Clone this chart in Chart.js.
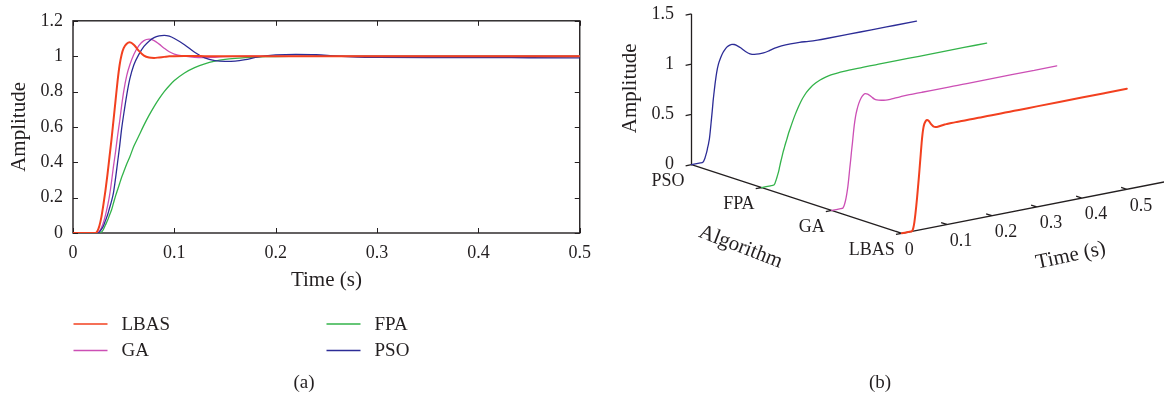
<!DOCTYPE html>
<html>
<head>
<meta charset="utf-8">
<script src="https://cdn.jsdelivr.net/npm/chart.js@4.4.1/dist/chart.umd.min.js"></script>
<style>
  html, body { margin: 0; padding: 0; background: #fff; }
  #wrap { position: relative; width: 1164px; height: 402px; overflow: hidden; }
  #stepChart { position: absolute; left: 0; top: 0; }
  #waterfallChart { position: absolute; left: 600px; top: 0; }
</style>
</head>
<body>
<div id="wrap">
  <canvas id="stepChart" width="600" height="402"></canvas>
  <canvas id="waterfallChart" width="564" height="402"></canvas>
</div>
<script>
// ---- step response data (time in seconds, amplitude) ----
const timeS = [0, 0.020, 0.022, 0.024, 0.026, 0.028, 0.030, 0.032, 0.034, 0.036,
  0.038, 0.040, 0.042, 0.044, 0.046, 0.048, 0.050, 0.053, 0.056, 0.060,
  0.065, 0.070, 0.075, 0.080, 0.085, 0.090, 0.095, 0.100, 0.110, 0.120,
  0.130, 0.140, 0.150, 0.160, 0.170, 0.180, 0.190, 0.200, 0.220, 0.240,
  0.260, 0.280, 0.300, 0.350, 0.400, 0.450, 0.500];

const lbas = [0, 0, 0, 0.01, 0.04, 0.09, 0.16, 0.24, 0.33, 0.43,
  0.53, 0.64, 0.75, 0.86, 0.95, 1.01, 1.045, 1.07, 1.078, 1.065,
  1.03, 1.003, 0.992, 0.99, 0.993, 0.996, 0.999, 1.0, 1.001, 1.001,
  1.0, 1.0, 1.0, 1.0, 1.0, 1.0, 1.0, 1.0, 1.0, 1.0,
  1.0, 1.0, 1.0, 1.0, 1.0, 1.0, 1.0];

const ga = [0, 0, 0, 0, 0.01, 0.03, 0.06, 0.10, 0.15, 0.21,
  0.29, 0.38, 0.46, 0.55, 0.63, 0.72, 0.80, 0.89, 0.95, 1.01,
  1.06, 1.088, 1.096, 1.088, 1.068, 1.045, 1.025, 1.012, 1.0, 0.993,
  0.992, 0.994, 0.997, 0.999, 1.0, 1.0, 1.0, 1.0, 1.0, 1.0,
  1.0, 1.0, 1.0, 1.0, 1.0, 1.0, 1.0];

const fpa = [0, 0, 0, 0, 0, 0.005, 0.02, 0.045, 0.07, 0.10,
  0.13, 0.17, 0.21, 0.245, 0.28, 0.315, 0.345, 0.39, 0.43, 0.49,
  0.55, 0.61, 0.665, 0.715, 0.76, 0.80, 0.833, 0.862, 0.905, 0.935,
  0.957, 0.972, 0.982, 0.988, 0.992, 0.995, 0.997, 0.998, 0.999, 1.0,
  1.0, 1.0, 1.0, 1.0, 1.0, 1.0, 1.0];

const pso = [0, 0, 0, 0, 0.005, 0.02, 0.04, 0.07, 0.10, 0.14,
  0.18, 0.23, 0.31, 0.40, 0.49, 0.59, 0.67, 0.78, 0.87, 0.95,
  1.01, 1.055, 1.085, 1.105, 1.115, 1.118, 1.113, 1.10, 1.065, 1.022,
  0.99, 0.975, 0.971, 0.972, 0.98, 0.993, 1.002, 1.007, 1.01, 1.008,
  1.0, 0.995, 0.993, 0.992, 0.992, 0.991, 0.99];

// ---- axis ticks ----
const timeTicks = [0, 0.1, 0.2, 0.3, 0.4, 0.5];
const timeTickLabels = ['0', '0.1', '0.2', '0.3', '0.4', '0.5'];
const ampTicks = [0, 0.2, 0.4, 0.6, 0.8, 1.0, 1.2];
const ampTickLabels = ['0', '0.2', '0.4', '0.6', '0.8', '1', '1.2'];

// waterfall view: algorithms along the depth axis, back to front
const algorithms = ['PSO', 'FPA', 'GA', 'LBAS'];
const ampTicks3d = [0, 0.5, 1.0, 1.5];
const ampTickLabels3d = ['0', '0.5', '1', '1.5'];
const timeMax3d = 0.6;

// ---- styling ----
const INK = '#231f20';
const SERIF = "'Liberation Serif', 'DejaVu Serif', serif";
const seriesStyle = {
  LBAS: { color: '#f2401f', width: 2.0, order: 0 },
  GA:   { color: '#cc4fb5', width: 1.3, order: 2 },
  FPA:  { color: '#33b34a', width: 1.3, order: 3 },
  PSO:  { color: '#2c2c96', width: 1.3, order: 1 }
};
const seriesValues = { LBAS: lbas, GA: ga, FPA: fpa, PSO: pso };
const legendGrid = [['LBAS', 'FPA'], ['GA', 'PSO']];

// ---------------- (a) 2-D step responses ----------------
const frameTicks = {
  id: 'frameTicks',
  beforeDatasetsDraw(chart) {
    const { ctx, chartArea: a, scales: { x, y } } = chart;
    const T = 5;
    ctx.save();
    ctx.strokeStyle = INK;
    ctx.lineWidth = 1.4;
    ctx.strokeRect(a.left, a.top, a.right - a.left, a.bottom - a.top);
    ctx.beginPath();
    timeTicks.forEach(v => {
      const px = Math.round(x.getPixelForValue(v)) + 0.5;
      ctx.moveTo(px, a.bottom); ctx.lineTo(px, a.bottom - T);
      ctx.moveTo(px, a.top); ctx.lineTo(px, a.top + T);
    });
    ampTicks.forEach(v => {
      const py = Math.round(y.getPixelForValue(v)) + 0.5;
      ctx.moveTo(a.left, py); ctx.lineTo(a.left + T, py);
      ctx.moveTo(a.right, py); ctx.lineTo(a.right - T, py);
    });
    ctx.lineWidth = 1;
    ctx.stroke();
    ctx.restore();
  },
  afterDraw(chart) {
    const ctx = chart.ctx;
    ctx.save();
    ctx.font = '19px ' + SERIF;
    ctx.fillStyle = INK;
    ctx.textBaseline = 'middle';
    ctx.textAlign = 'left';
    const x0 = 73.5, y0 = 324, colGap = 253, rowGap = 26.5, lineLen = 34, textGap = 14;
    legendGrid.forEach((row, r) => row.forEach((name, c) => {
      const ds = chart.data.datasets.find(d => d.label === name);
      const lx = x0 + c * colGap, ly = y0 + r * rowGap;
      ctx.strokeStyle = ds.borderColor;
      ctx.lineWidth = 1.6;
      ctx.beginPath(); ctx.moveTo(lx, ly); ctx.lineTo(lx + lineLen, ly); ctx.stroke();
      ctx.fillText(name, lx + lineLen + textGap, ly + 1);
    }));
    ctx.textAlign = 'center';
    ctx.fillText('(a)', 304, 383);
    ctx.restore();
  }
};

new Chart(document.getElementById('stepChart'), {
  type: 'line',
  data: {
    datasets: ['LBAS', 'GA', 'FPA', 'PSO'].map(name => ({
      label: name,
      data: timeS.map((t, i) => ({ x: t, y: seriesValues[name][i] })),
      borderColor: seriesStyle[name].color,
      borderWidth: seriesStyle[name].width,
      order: seriesStyle[name].order,
      fill: false
    }))
  },
  options: {
    responsive: false,
    animation: false,
    layout: { padding: { left: 0, right: 19, top: 14, bottom: 102 } },
    plugins: { legend: { display: false }, tooltip: { enabled: false } },
    elements: {
      point: { radius: 0 },
      line: { cubicInterpolationMode: 'monotone', borderJoinStyle: 'round', borderCapStyle: 'round' }
    },
    scales: {
      x: {
        type: 'linear', min: 0, max: 0.5,
        afterBuildTicks: s => { s.ticks = timeTicks.map(v => ({ value: v })); },
        afterFit: s => { s.height = 67; },
        grid: { display: false, drawTicks: false },
        border: { display: false },
        ticks: {
          callback: (v, i) => timeTickLabels[i],
          font: { family: SERIF, size: 18 }, color: INK,
          padding: 9, maxRotation: 0, autoSkip: false
        },
        title: {
          display: true, text: 'Time (s)', color: INK,
          font: { family: SERIF, size: 21 }, padding: { top: 0, bottom: 7 }
        }
      },
      y: {
        type: 'linear', min: 0, max: 1.2,
        afterBuildTicks: s => { s.ticks = ampTicks.map(v => ({ value: v })); },
        afterFit: s => { s.width = 73; },
        grid: { display: false, drawTicks: false },
        border: { display: false },
        ticks: {
          callback: (v, i) => ampTickLabels[i],
          font: { family: SERIF, size: 18 }, color: INK,
          padding: 10, autoSkip: false
        },
        title: {
          display: true, text: 'Amplitude', color: INK,
          font: { family: SERIF, size: 21 }, padding: { top: 7, bottom: 0 }
        }
      }
    }
  },
  plugins: [frameTicks]
});

// ---------------- (b) waterfall view ----------------
// oblique projection: time runs to the right and slightly up,
// each algorithm row steps forward (right and down), amplitude is vertical
const VIEW = { algDx: 0.1558, algDy: 0.2275, timeDy: 0.8756 };
function projectValue(t, k, a) {
  return { x: t + k * VIEW.algDx, y: a + t * VIEW.timeDy - k * VIEW.algDy };
}
function projectPixel(chart, t, k, a) {
  const v = projectValue(t, k, a);
  return { x: chart.scales.x.getPixelForValue(v.x), y: chart.scales.y.getPixelForValue(v.y) };
}

const waterfallAxes = {
  id: 'waterfallAxes',
  beforeDatasetsDraw(chart) {
    const ctx = chart.ctx;
    const P = (t, k, a) => projectPixel(chart, t, k, a);
    const last = algorithms.length - 1;
    const o = P(0, 0, 0);
    const unit = (p, q) => { const dx = q.x - p.x, dy = q.y - p.y, l = Math.hypot(dx, dy); return { x: dx / l, y: dy / l }; };
    const dT = unit(o, P(1, 0, 0));
    const dK = unit(o, P(0, 1, 0));
    const seg = (p, q) => { ctx.moveTo(p.x, p.y); ctx.lineTo(q.x, q.y); };
    const T = 6;

    ctx.save();
    ctx.strokeStyle = INK;
    ctx.lineWidth = 1.3;
    ctx.beginPath();
    seg(P(0, 0, 0), P(0, 0, ampTicks3d[ampTicks3d.length - 1]));
    seg(P(0, 0, 0), P(0, last, 0));
    seg(P(0, last, 0), P(timeMax3d, last, 0));
    ampTicks3d.forEach(a => { const p = P(0, 0, a); seg(p, { x: p.x - dT.x * T, y: p.y - dT.y * T }); });
    algorithms.forEach((_, k) => { const p = P(0, k, 0); seg(p, { x: p.x - dT.x * T, y: p.y - dT.y * T }); });
    timeTicks.forEach(t => { const p = P(t, last, 0); seg(p, { x: p.x - dK.x * T, y: p.y - dK.y * T }); });
    ctx.stroke();

    ctx.fillStyle = INK;
    ctx.font = '18px ' + SERIF;
    ctx.textBaseline = 'middle';
    ctx.textAlign = 'right';
    ampTicks3d.forEach((a, i) => { const p = P(0, 0, a); ctx.fillText(ampTickLabels3d[i], p.x - 17.5, p.y); });
    algorithms.forEach((name, k) => { const p = P(0, k, 0); ctx.fillText(name, p.x - 7, p.y + 17); });
    ctx.textAlign = 'left';
    timeTicks.forEach((t, i) => { const p = P(t, last, 0); ctx.fillText(timeTickLabels[i], p.x + 3, p.y + 16.5); });

    ctx.font = '21px ' + SERIF;
    ctx.textAlign = 'center';
    const title = (text, p, dx, dy, rot) => {
      ctx.save(); ctx.translate(p.x + dx, p.y + dy); ctx.rotate(rot * Math.PI / 180);
      ctx.fillText(text, 0, 0); ctx.restore();
    };
    title('Amplitude', P(0, 0, 0.75), -61, -1, -90);
    title('Algorithm', P(0, 1.5, 0), -56, 48, 21);
    title('Time (s)', P(0.3, last, 0), 34, 49, -12);

    ctx.font = '19px ' + SERIF;
    ctx.fillText('(b)', 280, 383);
    ctx.restore();
  }
};

new Chart(document.getElementById('waterfallChart'), {
  type: 'scatter',
  data: {
    datasets: algorithms.map((name, k) => ({
      label: name,
      data: timeS.map((t, i) => projectValue(t, k, seriesValues[name][i])),
      showLine: true,
      borderColor: seriesStyle[name].color,
      borderWidth: seriesStyle[name].width,
      fill: false
    }))
  },
  options: {
    responsive: false,
    animation: false,
    layout: { padding: 0 },
    plugins: { legend: { display: false }, tooltip: { enabled: false } },
    elements: {
      point: { radius: 0 },
      line: { cubicInterpolationMode: 'monotone', borderJoinStyle: 'round', borderCapStyle: 'round' }
    },
    scales: {
      x: { type: 'linear', display: false, min: -0.20333, max: 1.05 },
      y: { type: 'linear', display: false, min: -2.3612, max: 1.6388 }
    }
  },
  plugins: [waterfallAxes]
});
</script>
</body>
</html>
